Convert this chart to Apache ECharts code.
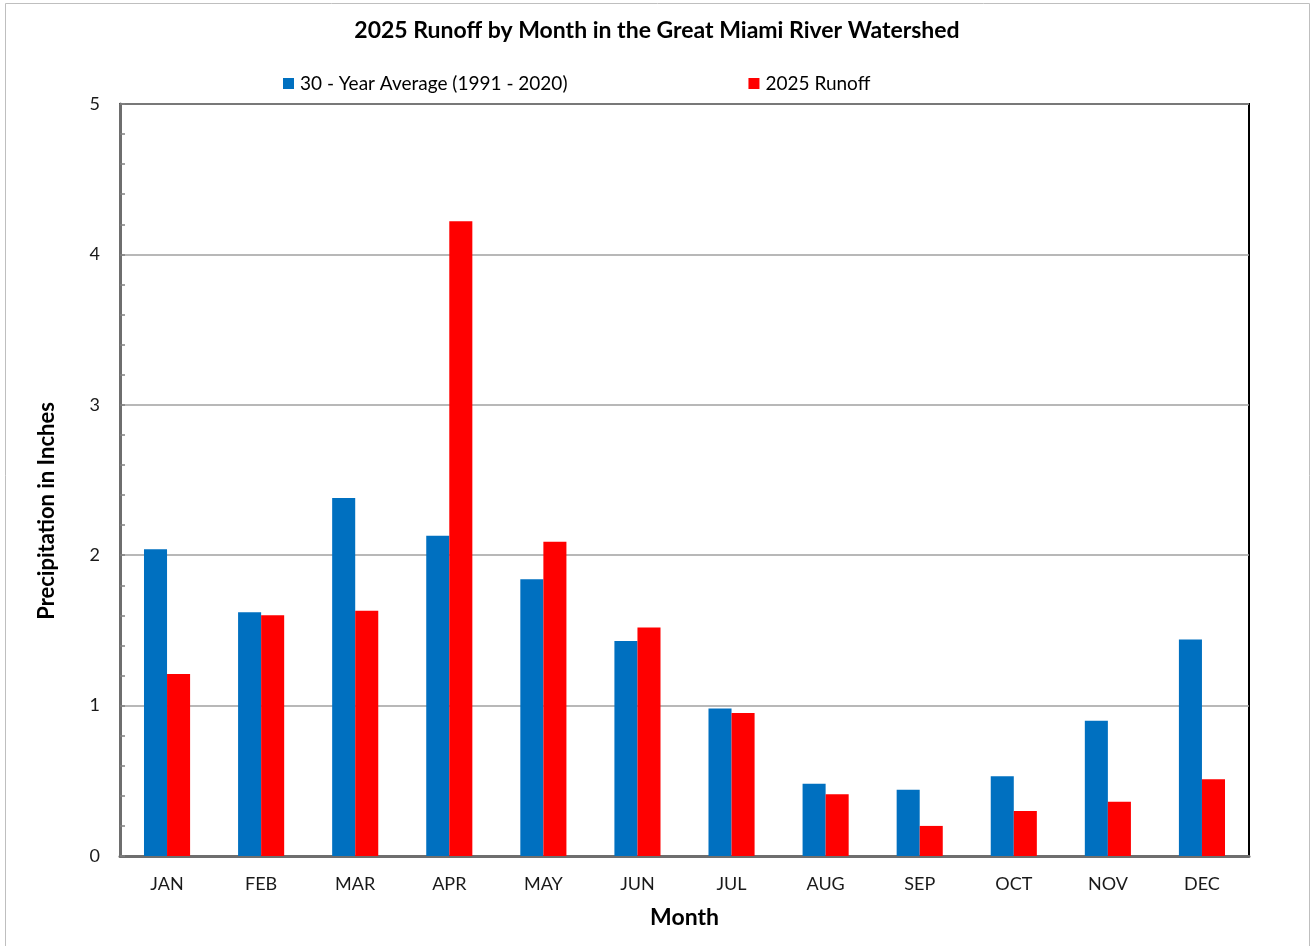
<!DOCTYPE html>
<html>
<head>
<meta charset="utf-8">
<script src="https://cdn.jsdelivr.net/npm/echarts@6/dist/echarts.min.js"></script>
<style>
  html, body { margin: 0; padding: 0; background: #fff; }
  #chart { width: 1314px; height: 946px; }
</style>
</head>
<body>
<div id="chart"></div>
<script>
// Monthly runoff, Great Miami River watershed (inches)
const months = ['JAN', 'FEB', 'MAR', 'APR', 'MAY', 'JUN', 'JUL', 'AUG', 'SEP', 'OCT', 'NOV', 'DEC'];
const avg30yr = [2.04, 1.62, 2.38, 2.13, 1.84, 1.43, 0.98, 0.48, 0.44, 0.53, 0.90, 1.44];
const runoff2025 = [1.21, 1.60, 1.63, 4.22, 2.09, 1.52, 0.95, 0.41, 0.20, 0.30, 0.36, 0.51];
const seriesNames = ['30 - Year Average (1991 - 2020)', '2025 Runoff'];
const yTicks = [0, 1, 2, 3, 4, 5];

const FONT = 'Lato, "Open Sans", sans-serif';
const chart = echarts.init(document.getElementById('chart'), null, { renderer: 'canvas' });

chart.setOption({
  animation: false,
  backgroundColor: '#ffffff',
  textStyle: { fontFamily: FONT },
  title: {
    text: '2025 Runoff by Month in the Great Miami River Watershed',
    left: 'center',
    top: 14,
    textStyle: { fontFamily: FONT, fontSize: 23, fontWeight: 'bold', color: '#000' }
  },
  legend: {
    data: seriesNames,
    top: 69,
    left: 278,
    itemGap: 181,
    itemWidth: 11,
    itemHeight: 11,
    icon: 'rect',
    textStyle: { fontFamily: FONT, fontSize: 19, color: '#000', padding: [0, 0, 0, 1] }
  },
  graphic: [{
    type: 'rect',
    shape: { x: 5.5, y: 3.5, width: 1304, height: 960 },
    style: { fill: 'none', stroke: '#bfbfbf', lineWidth: 1 },
    silent: true,
    z: -1
  }],
  grid: {
    left: 120,
    right: 65,
    top: 104,
    bottom: 90,
    show: true,
    borderColor: '#000',
    borderWidth: 2
  },
  xAxis: {
    type: 'category',
    data: months,
    name: 'Month',
    nameLocation: 'middle',
    nameGap: 50,
    nameTextStyle: { fontFamily: FONT, fontSize: 23, fontWeight: 'bold', color: '#000' },
    axisLine: { lineStyle: { color: '#6e6e6e', width: 3 } },
    axisTick: { show: false },
    axisLabel: { fontFamily: FONT, fontSize: 18, color: '#1a1a1a', margin: 19 }
  },
  yAxis: {
    type: 'value',
    min: yTicks[0],
    max: yTicks[yTicks.length - 1],
    interval: 1,
    name: 'Precipitation in Inches',
    nameLocation: 'middle',
    nameGap: 62,
    nameTextStyle: { fontFamily: FONT, fontSize: 22, fontWeight: 'bold', color: '#000', padding: [0, 62, 0, 0] },
    axisLine: { show: true, lineStyle: { color: '#6e6e6e', width: 3 } },
    axisTick: { show: true, inside: true, length: 5, lineStyle: { color: '#808080', width: 1.5 } },
    minorTick: { show: true, splitNumber: 5, length: 5, lineStyle: { color: '#808080', width: 1.5 } },
    axisLabel: { fontFamily: FONT, fontSize: 18, color: '#1a1a1a', margin: 20 },
    splitLine: { show: true, lineStyle: { color: '#a0a0a0', width: 1.5 } }
  },
  series: [
    {
      name: seriesNames[0],
      type: 'bar',
      data: avg30yr,
      barGap: '0%',
      barCategoryGap: '51%',
      itemStyle: { color: '#0070C0' }
    },
    {
      name: seriesNames[1],
      type: 'bar',
      data: runoff2025,
      barGap: '0%',
      barCategoryGap: '51%',
      itemStyle: { color: '#FF0000' }
    }
  ]
});
</script>
</body>
</html>
